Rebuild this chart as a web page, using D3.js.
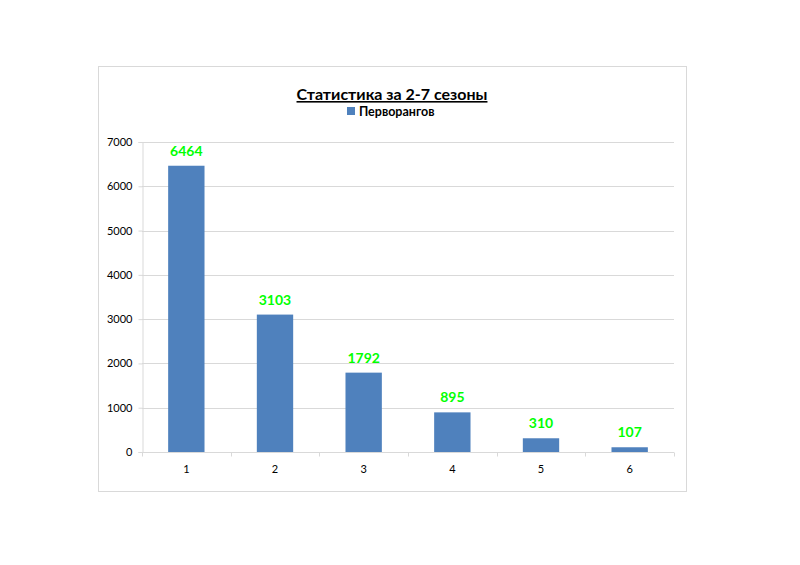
<!DOCTYPE html>
<html>
<head>
<meta charset="utf-8">
<script src="https://cdn.jsdelivr.net/npm/d3@7"></script>
<style>
  body { margin: 0; background: #fff; }
  text { font-family: Lato, "Open Sans", sans-serif; }
</style>
</head>
<body>
<div id="viz"></div>
<script>
const seasons = ["1", "2", "3", "4", "5", "6"];
const firstRanks = [6464, 3103, 1792, 895, 310, 107];
const yTicks = [0, 1000, 2000, 3000, 4000, 5000, 6000, 7000];

const width = 800, height = 565,
      plot = {left: 142, right: 674, top: 142, bottom: 452},
      bar_color = "#4f81bd",
      label_color = "#00ff00";

const svg = d3.select("#viz").append("svg")
  .attr("width", width)
  .attr("height", height);

// chart frame
svg.append("rect")
  .attr("x", 98.5).attr("y", 66.5)
  .attr("width", 588).attr("height", 425)
  .style("fill", "#fff")
  .style("stroke", "#d9d9d9");

const x = d3.scaleBand()
  .domain(seasons)
  .range([plot.left, plot.right])
  .paddingInner(0.59)
  .paddingOuter(0.295);

const y = d3.scaleLinear()
  .domain([0, 7000])
  .range([plot.bottom, plot.top]);

// gridlines
svg.append("g")
  .selectAll("line")
  .data(yTicks.slice(1))
  .join("line")
  .attr("x1", plot.left).attr("x2", plot.right)
  .attr("y1", d => Math.round(y(d)) + 0.5)
  .attr("y2", d => Math.round(y(d)) + 0.5)
  .style("stroke", "#d9d9d9");

// y axis
const yAxis = svg.append("g")
  .attr("transform", `translate(${plot.left + 0.5},0)`)
  .call(d3.axisLeft(y).tickValues(yTicks).tickSize(4).tickPadding(6).tickFormat(d3.format("d")));
yAxis.select(".domain").style("stroke", "#d9d9d9");
yAxis.selectAll(".tick line").style("stroke", "#d9d9d9");
yAxis.selectAll(".tick text").style("font-size", "11px").style("fill", "#000");

// x axis with ticks between categories
const xAxisG = svg.append("g")
  .attr("transform", `translate(0,${Math.round(y(0)) + 0.5})`);
xAxisG.append("line")
  .attr("x1", plot.left).attr("x2", plot.right)
  .style("stroke", "#d9d9d9");
xAxisG.selectAll(".sep")
  .data(d3.range(seasons.length + 1))
  .join("line")
  .attr("class", "sep")
  .attr("x1", i => Math.round(plot.left + i * x.step()) + 0.5)
  .attr("x2", i => Math.round(plot.left + i * x.step()) + 0.5)
  .attr("y1", 0).attr("y2", 4)
  .style("stroke", "#d9d9d9");
xAxisG.selectAll(".lbl")
  .data(seasons)
  .join("text")
  .attr("class", "lbl")
  .attr("x", d => x(d) + x.bandwidth() / 2)
  .attr("y", 20)
  .attr("text-anchor", "middle")
  .style("font-size", "11px")
  .text(d => d);

// bars
svg.append("g")
  .selectAll("rect")
  .data(firstRanks)
  .join("rect")
  .attr("x", (d, i) => x(seasons[i]))
  .attr("y", d => y(d))
  .attr("width", x.bandwidth())
  .attr("height", d => y(0) - y(d))
  .style("fill", bar_color);

// value labels
svg.append("g")
  .selectAll("text")
  .data(firstRanks)
  .join("text")
  .attr("x", (d, i) => x(seasons[i]) + x.bandwidth() / 2)
  .attr("y", d => y(d) - 10)
  .attr("text-anchor", "middle")
  .style("font-size", "14px")
  .style("font-weight", "bold")
  .style("fill", label_color)
  .text(d => d);

// title
svg.append("text")
  .attr("x", 392).attr("y", 100)
  .attr("text-anchor", "middle")
  .style("font-size", "16px")
  .style("font-weight", "bold")
  .style("text-decoration", "underline")
  .text("Статистика за 2-7 сезоны");

// legend
svg.append("rect")
  .attr("x", 347).attr("y", 107)
  .attr("width", 8).attr("height", 8)
  .style("fill", bar_color);
svg.append("text")
  .attr("x", 359).attr("y", 116)
  .style("font-size", "12.5px")
  .style("font-weight", "bold")
  .text("Перворангов");
</script>
</body>
</html>
